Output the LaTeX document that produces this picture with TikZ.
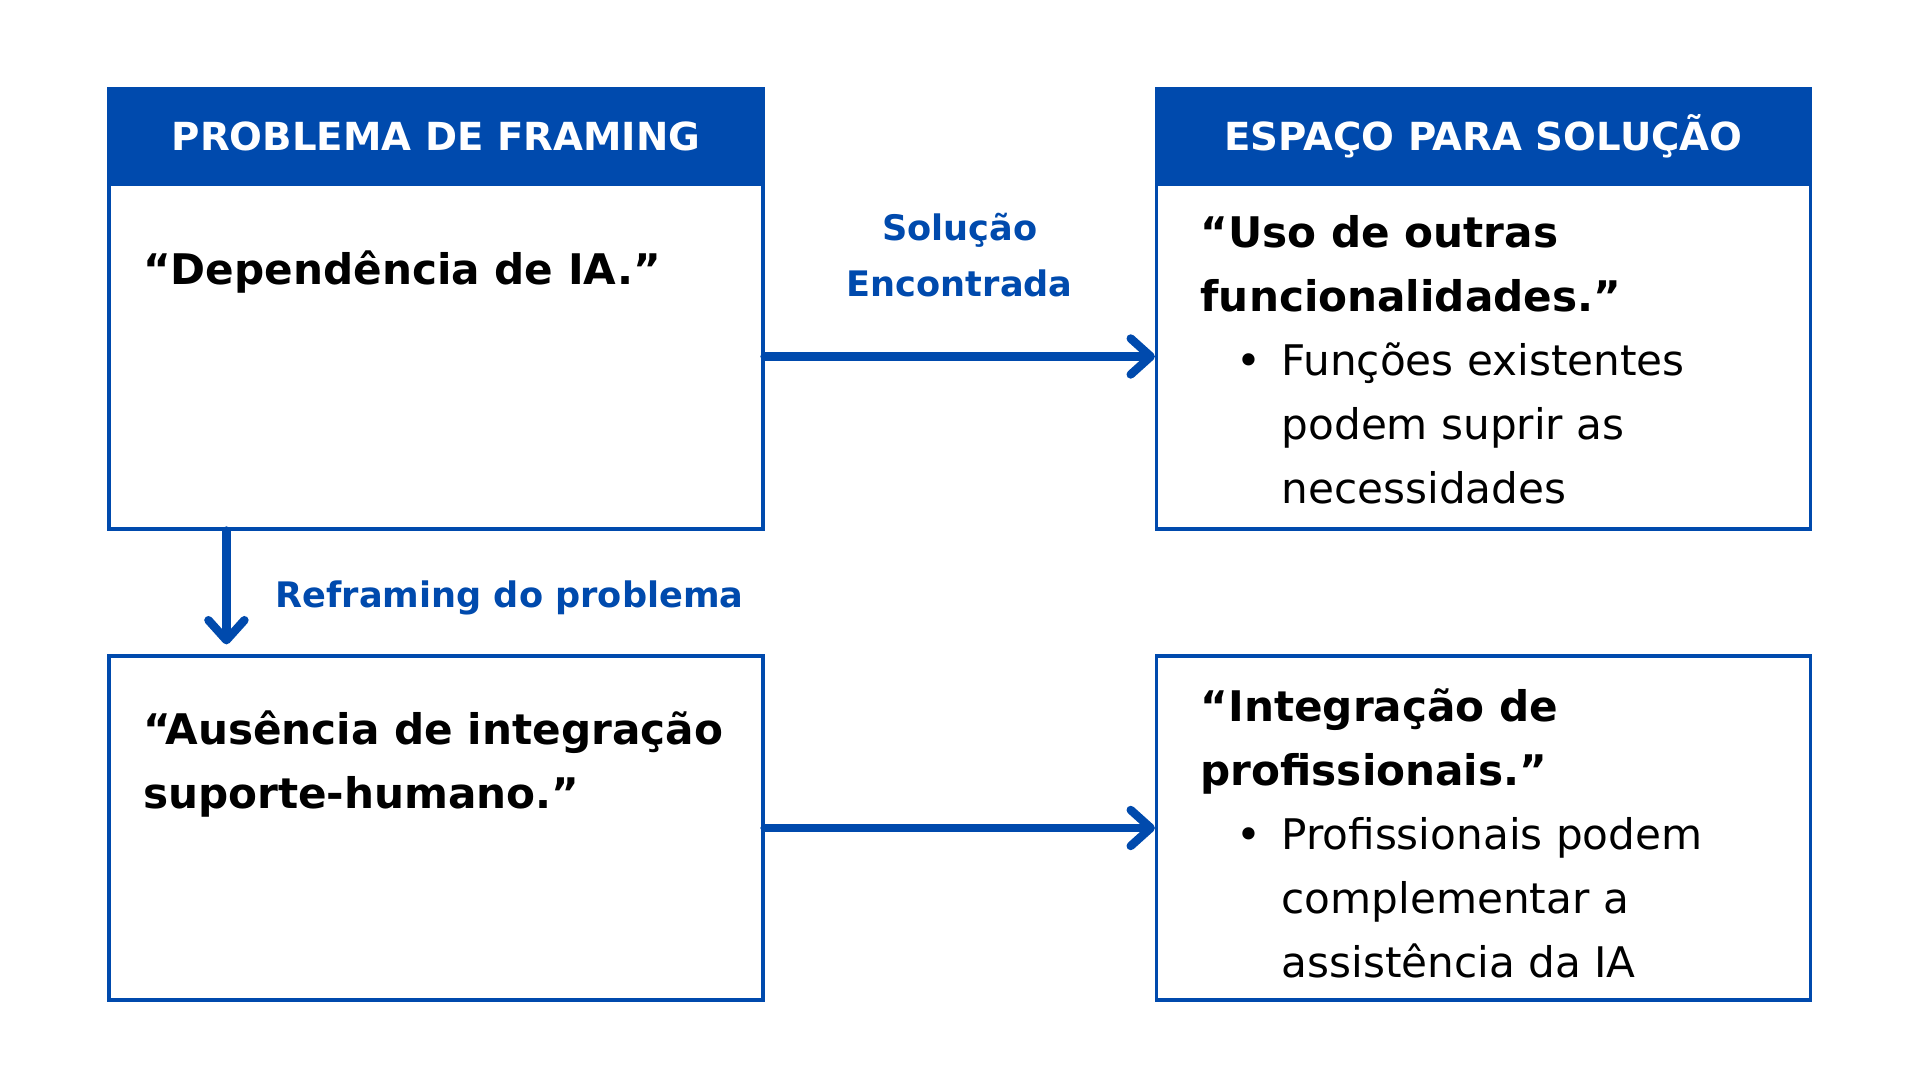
\documentclass[tikz,border=0pt]{standalone}
\usepackage{fontspec}
\setmainfont{DejaVu Sans}
\usetikzlibrary{arrows.meta, positioning}
\definecolor{frameblue}{RGB}{0, 74, 173}
\newcommand{\bulpt}{\hspace*{0.36cm}\textbullet\hspace{0.2cm}}
\newcommand{\bulgap}{\hspace*{0.81cm}}
\tikzset{
  headbox/.style={rectangle, draw=frameblue, fill=frameblue, line width=0.9pt,
                  minimum width=6.54cm, minimum height=0.95cm, text=white,
                  font=\fontsize{11}{13}\selectfont\bfseries},
  bodybox/.style={rectangle, draw=frameblue, fill=white, line width=0.9pt,
                  minimum width=6.54cm, minimum height=#1},
  bodybox/.default=3.45cm,
  boxtext/.style={anchor=north west, align=left, inner sep=0pt,
                  font=\fontsize{12}{18.2}\selectfont},
  arrow/.style={-{Straight Barb[length=0.2cm, width=0.36cm, round]},
                line width=2.4pt, color=frameblue, line cap=round},
  flowtext/.style={text=frameblue, inner sep=0pt, align=center,
                   font=\fontsize{10}{16}\selectfont\bfseries},
}
\begin{document}
\begin{tikzpicture}
  \useasboundingbox (0,0) rectangle (19.2,10.8);

  % Framing problem column
  \node[headbox] (phead) at (4.36, 9.435) {PROBLEMA DE FRAMING};
  \node[bodybox] (pbody) at (4.36, 7.235) {};
  \node[bodybox=3.44cm] (pbot) at (4.36, 2.52) {};
  \node[boxtext] (ptext) at ([xshift=0.35cm, yshift=-0.68cm]pbody.north west)
    {\textbf{“Dependência de IA.”}};
  \node[boxtext] (btext) at ([xshift=0.35cm, yshift=-0.56cm]pbot.north west)
    {\textbf{“Ausência de integração}\\
     \textbf{suporte-humano.”}};

  % Solution column
  \node[headbox] (shead) at (14.835, 9.435) {ESPAÇO PARA SOLUÇÃO};
  \node[bodybox] (sbody) at (14.835, 7.235) {};
  \node[bodybox=3.44cm] (sbot) at (14.835, 2.52) {};
  \node[boxtext] (stext) at ([xshift=0.45cm, yshift=-0.32cm]sbody.north west)
    {\textbf{“Uso de outras}\\
     \textbf{funcionalidades.”}\\
     \bulpt Funções existentes\\
     \bulgap podem suprir as\\
     \bulgap necessidades};
  \node[boxtext] (ttext) at ([xshift=0.45cm, yshift=-0.34cm]sbot.north west)
    {\textbf{“Integração de}\\
     \textbf{profissionais.”}\\
     \bulpt Profissionais podem\\
     \bulgap complementar a\\
     \bulgap assistência da IA};

  % Arrows
  \draw[arrow] (pbody.east) -- node[flowtext, above=0.55cm] (found) {Solução\\Encontrada} (sbody.west);
  \draw[arrow] (pbot.east) -- (sbot.west);
  \draw[arrow, shorten >=0.1cm] ([xshift=1.19cm]pbody.south west) --
    node[flowtext, right=0.45cm, yshift=-0.05cm] (reframe) {Reframing do problema} ([xshift=1.19cm]pbot.north west);
\end{tikzpicture}
\end{document}
